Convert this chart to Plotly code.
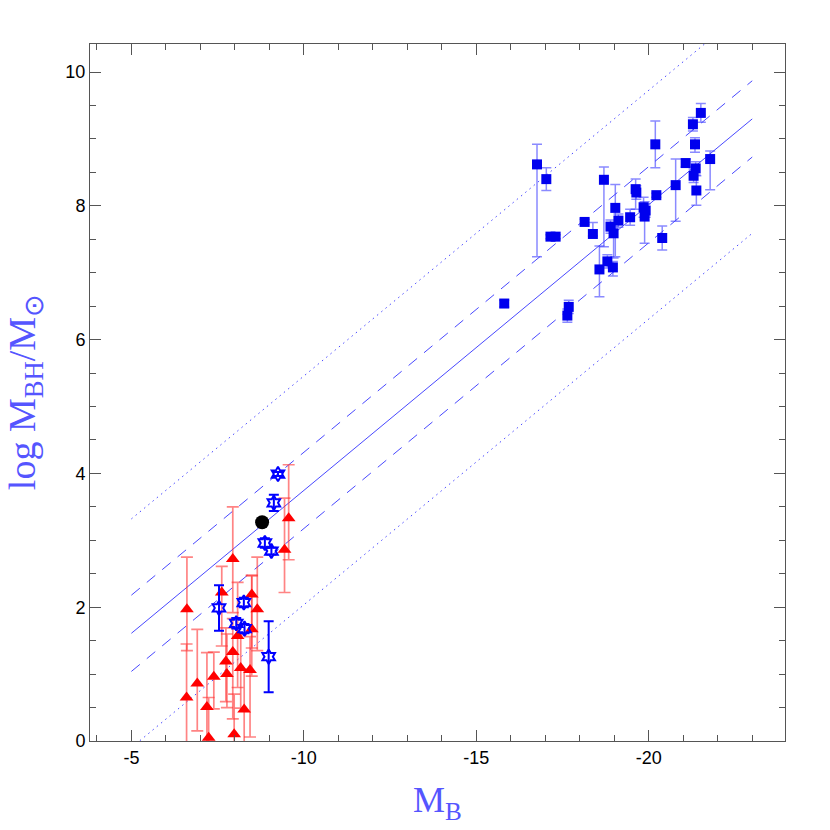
import plotly.graph_objects as go

# ---- Data ----
# Red triangles
tri_mb = [-6.61, -6.60, -6.91, -7.19, -7.24, -7.39, -7.62, -7.74, -7.77, -7.94, -7.94,
          -7.98, -8.08, -8.17, -8.27, -8.44, -8.49, -8.49, -8.65, -9.44, -9.56]
tri_lm = [1.97, 0.65, 0.86, 0.51, 0.05, 0.96, 2.22, 1.19, 1.00, 2.72, 1.33,
          0.10, 1.57, 1.09, 0.47, 1.06, 1.67, 2.19, 1.97, 2.86, 3.33]
tri_ep = [0.78, 0.80, 0.81, 0.81, 0.60, 0.37, 0.39, 0.50, 0.60, 0.78, 0.50,
          0.60, 0.80, 0.50, 0.60, 0.50, 0.80, 0.29, 0.78, 0.77, 0.80]
tri_em = [0.62, 0.90, 0.71, 0.80, 0.60, 0.48, 0.80, 0.60, 0.50, 0.80, 1.00,
          0.30, 0.77, 0.60, 0.50, 1.00, 0.70, 0.80, 0.62, 0.64, 0.62]

# Blue open stars
star_mb = [-9.25, -9.13, -8.87, -9.06, -7.54, -8.26, -8.04, -8.28, -8.98]
star_lm = [3.99, 3.56, 2.96, 2.84, 1.99, 2.07, 1.76, 1.68, 1.26]
star_e = [0.03, 0.12, 0.07, 0.05, 0.34, 0.07, 0.08, 0.07, 0.53]

# Black circle
circ_mb = [-8.79]
circ_lm = [3.27]

# Blue squares
sq_mb = [-16.76, -17.03, -17.15, -17.30, -15.81, -17.68, -17.64, -18.14, -18.38, -18.70,
         -18.57, -18.80, -18.96, -19.03, -19.12, -18.89, -18.98, -19.46, -19.62, -19.64,
         -19.85, -19.91, -19.88, -20.22, -20.19, -20.39, -20.78, -21.07, -21.28, -21.34,
         -21.36, -21.30, -21.38, -21.51, -21.78]
sq_lm = [8.62, 8.40, 7.54, 7.54, 6.54, 6.49, 6.36, 7.76, 7.58, 8.39,
         7.05, 7.17, 7.08, 7.97, 7.78, 7.69, 7.59, 7.83, 8.25, 8.20,
         7.98, 7.93, 7.84, 8.16, 8.92, 7.52, 8.31, 8.64, 9.22, 8.92,
         8.56, 8.45, 8.23, 9.39, 8.70]
sq_ep = [0.30, 0.17, 0.03, 0.03, 0.05, 0.10, 0.10, 0.04, 0.17, 0.19,
         0.35, 0.10, 0.09, 0.35, 0.10, 0.10, 0.10, 0.12, 0.15, 0.10,
         0.15, 0.10, 0.22, 0.03, 0.35, 0.18, 0.39, 0.06, 0.10, 0.10,
         0.10, 0.10, 0.22, 0.14, 0.12]
sq_em = [1.38, 0.17, 0.03, 0.03, 0.05, 0.10, 0.10, 0.04, 0.03, 1.00,
         0.41, 0.10, 0.13, 0.73, 0.10, 0.10, 0.37, 0.12, 0.30, 0.10,
         0.15, 0.10, 0.40, 0.03, 0.35, 0.18, 0.54, 0.06, 0.10, 0.12,
         0.10, 0.10, 0.22, 0.14, 0.46]

# Fit line endpoints and scatter offsets
fit_x = [-5, -23]
fit_y = [1.61, 9.30]
sig1 = 0.57
sig3 = 1.71

x_ticks = [-5, -10, -15, -20]
x_tick_text = ["-5", "-10", "-15", "-20"]
y_ticks = [0, 2, 4, 6, 8, 10]
y_tick_text = ["0", "2", "4", "6", "8", "10"]

x_title = "M<sub>B</sub>"
y_title = "log M<sub>BH</sub>/M<sub>⊙</sub>"

LINE_BLUE = "rgba(40,40,255,0.85)"
TITLE_FONT = dict(family="Liberation Serif, Times New Roman, serif", size=38, color="#5555ff")

fig = go.Figure()

# fit lines
fig.add_trace(go.Scatter(x=fit_x, y=fit_y, mode="lines",
                         line=dict(color=LINE_BLUE, width=1), showlegend=False))
for off in (sig1, -sig1):
    fig.add_trace(go.Scatter(x=fit_x, y=[v + off for v in fit_y], mode="lines",
                             line=dict(color=LINE_BLUE, width=1, dash="11px,9px"),
                             showlegend=False))
for off in (sig3, -sig3):
    fig.add_trace(go.Scatter(x=fit_x, y=[v + off for v in fit_y], mode="lines",
                             line=dict(color=LINE_BLUE, width=1, dash="1.5px,4px"),
                             showlegend=False))

# red triangles
fig.add_trace(go.Scatter(
    x=tri_mb, y=tri_lm, mode="markers",
    marker=dict(symbol="triangle-up", size=12, color="red", line=dict(width=0)),
    error_y=dict(type="data", symmetric=False, array=tri_ep, arrayminus=tri_em,
                 color="rgba(255,50,50,0.6)", thickness=1.7, width=6),
    showlegend=False))

# blue squares
fig.add_trace(go.Scatter(
    x=sq_mb, y=sq_lm, mode="markers",
    marker=dict(symbol="square", size=10, color="#0000ee", line=dict(width=0)),
    error_y=dict(type="data", symmetric=False, array=sq_ep, arrayminus=sq_em,
                 color="rgba(60,60,255,0.6)", thickness=1.5, width=5),
    showlegend=False))

# blue stars
fig.add_trace(go.Scatter(
    x=star_mb, y=star_lm, mode="markers",
    marker=dict(symbol="hexagram-open", size=11, color="blue", line=dict(width=2, color="blue")),
    error_y=dict(type="data", array=star_e, color="blue", thickness=2, width=5),
    showlegend=False))

# black circle
fig.add_trace(go.Scatter(
    x=circ_mb, y=circ_lm, mode="markers",
    marker=dict(symbol="circle", size=14, color="black"),
    showlegend=False))

axis_common = dict(
    showline=True, linecolor="#555555", linewidth=1, mirror="allticks",
    ticks="inside", ticklen=11, tickcolor="#555555", tickwidth=1,
    showgrid=False, zeroline=False, automargin=False,
    tickfont=dict(family="Liberation Sans, Arial, sans-serif", size=18, color="black"),
)

fig.update_layout(
    width=822, height=822,
    margin=dict(l=82, r=45, t=36, b=89),
    paper_bgcolor="white", plot_bgcolor="white",
    xaxis=dict(range=[-3.8, -23.95], tickvals=x_ticks, ticktext=x_tick_text,
               minor=dict(dtick=1, ticks="inside", ticklen=6, tickcolor="#555555"),
               title=dict(text=x_title, standoff=20,
                          font=dict(family="Liberation Serif, Times New Roman, serif",
                                    size=36, color="#5555ff")),
               **axis_common),
    yaxis=dict(range=[0, 10.42], tickvals=y_ticks, ticktext=y_tick_text,
               minor=dict(dtick=0.5, ticks="inside", ticklen=6, tickcolor="#555555"),
               **axis_common),
    annotations=[dict(text=y_title, xref="paper", yref="paper", x=-0.094, y=0.5,
                      xanchor="center", yanchor="middle", textangle=-90,
                      showarrow=False, font=TITLE_FONT)],
)

fig.write_html("out.html")
